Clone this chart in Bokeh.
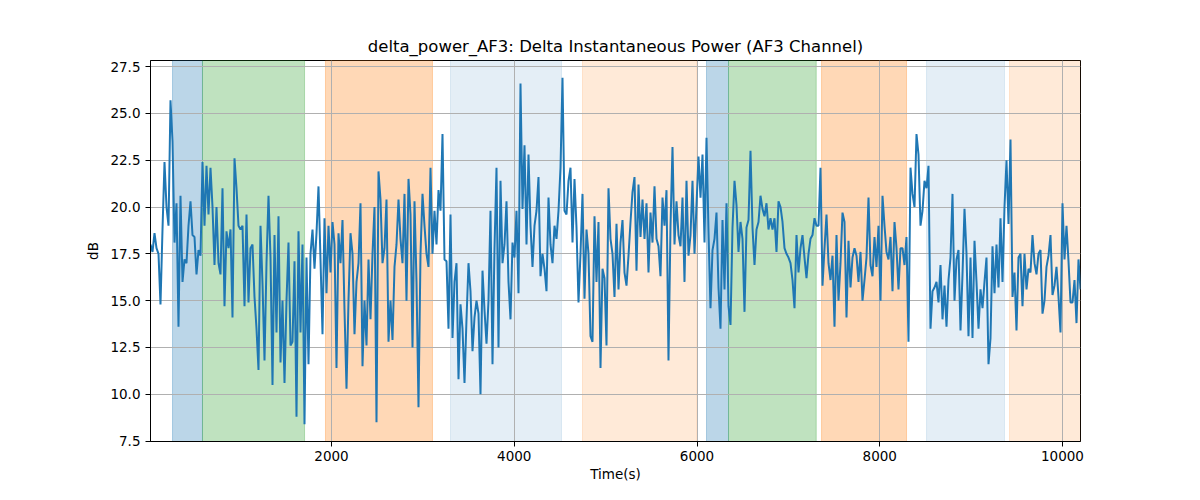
import numpy as np
from bokeh.plotting import figure
from bokeh.models import Range1d, FixedTicker, BoxAnnotation
from bokeh.embed import file_html
from bokeh.resources import INLINE

# ---------------- data ----------------
t_start = 19.0
t_end = 10197.0

power_db = [
    # 0 - ~850
    18.0, 17.6, 18.6, 17.8, 17.5, 14.8, 18.8, 22.4, 20.0, 19.0, 25.7, 23.5, 18.1, 20.2, 13.6, 20.6, 16.0, 17.2, 17.0,
    19.0, 20.3, 18.5, 18.4, 16.4, 17.7, 17.4, 22.4, 19.0, 22.2, 19.6, 22.1, 20.0, 16.9, 20.0, 17.0, 16.4, 21.0, 14.7,
    # ~850 - 1700
    18.7, 17.8, 18.8, 14.1, 22.6, 21.0, 19.0, 18.8, 19.0, 14.7, 19.6, 14.9, 17.8, 18.0, 15.2, 13.5, 11.3, 19.0, 15.9,
    11.8, 17.0, 20.6, 17.3, 10.5, 18.5, 13.3, 19.5, 11.7, 15.0, 10.6, 15.0, 18.1, 12.6, 12.8, 17.1, 8.8, 18.7, 13.3, 18.0,
    # ~1700 - 2550
    8.4, 17.3, 11.6, 17.5, 18.8, 16.7, 18.6, 21.1, 17.2, 13.2, 19.4, 15.4, 19.0, 16.5, 19.2, 18.0, 11.4, 18.6, 17.0,
    19.3, 14.5, 10.3, 15.0, 18.6, 17.5, 13.2, 16.0, 17.0, 20.2, 11.5, 15.0, 12.6, 17.2, 14.0, 17.5, 20.0, 8.5, 21.9, 20.4,
    # ~2550 - 3400
    17.0, 17.8, 20.4, 12.8, 15.0, 12.9, 16.8, 18.0, 20.4, 18.3, 17.0, 20.7, 15.0, 21.5, 19.6, 12.5, 20.3, 16.0, 9.3,
    17.5, 20.7, 19.0, 17.5, 16.8, 22.1, 17.5, 19.8, 18.0, 20.9, 19.8, 23.9, 17.2, 17.1, 13.5, 19.6, 13.0, 16.0, 17.0, 10.8,
    # ~3400 - 4250
    14.8, 13.5, 10.6, 14.0, 17.0, 15.5, 12.3, 14.1, 15.0, 14.3, 10.0, 16.6, 14.5, 12.7, 15.0, 19.8, 11.6, 17.8, 22.1,
    12.5, 21.4, 17.0, 18.0, 20.3, 16.0, 14.0, 18.1, 17.3, 19.8, 15.4, 26.6, 19.9, 23.3, 18.0, 22.8, 19.0, 16.8, 19.0,
    # ~4250 - 5100
    19.8, 21.6, 16.3, 17.5, 16.7, 15.5, 20.5, 18.0, 17.0, 19.0, 18.3, 19.8, 22.1, 26.9, 19.8, 19.6, 21.4, 22.1, 18.1,
    21.5, 18.9, 14.9, 17.5, 20.7, 15.1, 18.8, 17.5, 13.1, 12.8, 19.5, 16.0, 19.2, 11.4, 16.7, 16.2, 12.6, 21.0, 18.3, 17.5,
    # ~5100 - 5950
    15.2, 19.1, 15.6, 18.1, 19.3, 16.5, 15.8, 17.4, 19.2, 20.8, 21.6, 16.6, 21.2, 18.4, 20.4, 18.3, 20.2, 16.5, 19.7,
    18.1, 21.1, 18.3, 17.9, 16.3, 20.5, 19.0, 20.9, 11.8, 19.0, 23.2, 18.0, 20.3, 18.5, 17.9, 20.5, 16.0, 21.4, 17.4,
    # ~5950 - 6800
    18.5, 21.4, 17.5, 20.1, 22.7, 20.5, 22.8, 18.1, 23.7, 18.7, 14.6, 17.7, 18.3, 19.7, 15.7, 13.5, 19.3, 15.6, 20.2,
    14.7, 13.7, 18.9, 21.4, 20.1, 17.6, 19.2, 18.3, 14.4, 18.9, 19.3, 23.0, 18.9, 16.9, 18.8, 19.2, 20.6, 19.9, 19.5, 20.2,
    # ~6800 - 7650
    18.8, 19.4, 18.8, 19.4, 17.6, 20.3, 20.0, 19.2, 17.8, 17.5, 17.3, 17.0, 16.1, 14.6, 18.5, 16.5, 17.8, 18.5, 17.3,
    16.2, 17.5, 18.3, 18.5, 19.4, 19.0, 19.0, 22.1, 15.8, 17.8, 19.6, 17.0, 16.1, 17.4, 13.6, 18.5, 15.0, 17.0, 19.7,
    # ~7650 - 8500
    19.2, 14.1, 18.2, 15.7, 17.3, 17.8, 17.4, 16.0, 17.6, 15.0, 16.1, 17.3, 20.5, 16.9, 16.3, 18.4, 16.8, 19.0, 15.0,
    20.6, 19.0, 17.6, 17.2, 18.4, 15.5, 19.2, 17.8, 15.6, 17.8, 17.8, 16.9, 18.4, 12.8, 22.1, 20.7, 20.0, 23.9, 22.8, 19.0,
    # ~8500 - 9350
    19.8, 21.4, 21.0, 22.2, 13.5, 15.5, 15.7, 16.0, 14.9, 16.9, 14.0, 15.8, 13.6, 16.1, 17.3, 20.7, 15.0, 17.2, 17.7,
    13.4, 16.4, 19.9, 17.5, 13.1, 17.3, 13.0, 18.2, 16.0, 13.5, 15.6, 14.6, 16.0, 17.3, 11.6, 13.0, 17.9, 15.4, 18.0,
    # ~9350 - 10200
    15.7, 19.4, 16.0, 20.0, 22.5, 19.1, 23.6, 15.2, 16.5, 13.4, 17.3, 17.5, 14.7, 17.5, 15.6, 16.7, 16.5, 18.5, 17.0,
    16.4, 17.5, 17.7, 14.3, 15.0, 16.8, 17.4, 18.5, 15.3, 15.8, 16.8, 15.2, 13.3, 20.2, 17.2, 19.0, 17.1, 14.9, 14.9,
    16.1, 13.8, 17.2, 15.6,
]

region_start = [260, 588, 1934, 3302, 4747, 6104, 6345, 7363, 8512, 9420]
region_end = [588, 1705, 3105, 4517, 5995, 6345, 7305, 8293, 9365, 10300]
region_kind = ["A", "B", "C", "D", "E", "A", "B", "C", "D", "E"]

x_ticks = [2000, 4000, 6000, 8000, 10000]
y_ticks = [7.5, 10.0, 12.5, 15.0, 17.5, 20.0, 22.5, 25.0, 27.5]
y_tick_labels = ["7.5", "10.0", "12.5", "15.0", "17.5", "20.0", "22.5", "25.0", "27.5"]

# ---------------- styles ----------------
kind_style = {
    "A": ("#1f77b4", 0.3),
    "B": ("#2ca02c", 0.3),
    "C": ("#ff7f0e", 0.3),
    "D": ("#1f77b4", 0.12),
    "E": ("#ff7f0e", 0.16),
}
FONT = "DejaVu Sans"

times = np.linspace(t_start, t_end, len(power_db))
vals = np.array(power_db)
span = vals.max() - vals.min()
y_lo = vals.min() - 0.05 * span
y_hi = vals.max() + 0.05 * span

p = figure(
    width=1184, height=484,
    output_backend="svg", toolbar_location=None,
    x_range=Range1d(times[0], times[-1]),
    y_range=Range1d(y_lo, y_hi),
    min_border_left=150, min_border_right=104,
    min_border_top=60, min_border_bottom=40,
    title="delta_power_AF3: Delta Instantaneous Power (AF3 Channel)",
)
p.background_fill_color = "white"
p.border_fill_color = "white"
p.outline_line_color = "black"
p.outline_line_width = 1

p.title.align = "center"
p.title.text_font = FONT
p.title.text_font_size = "16.5px"
p.title.text_font_style = "normal"
p.title.text_color = "black"

for s, e, k in zip(region_start, region_end, region_kind):
    c, a = kind_style[k]
    p.add_layout(BoxAnnotation(left=s, right=e, fill_color=c, fill_alpha=a,
                               line_color=c, line_alpha=a, line_width=1, level="image"))

p.line(times, vals, line_color="#1f77b4", line_width=2)

p.xaxis.ticker = FixedTicker(ticks=x_ticks)
p.yaxis.ticker = FixedTicker(ticks=y_ticks)
p.yaxis.major_label_overrides = {t: l for t, l in zip(y_ticks, y_tick_labels)}
p.xaxis.axis_label = "Time(s)"
p.yaxis.axis_label = "dB"

for ax in (p.xaxis, p.yaxis):
    ax.axis_label_text_font = FONT
    ax.axis_label_text_font_size = "13.5px"
    ax.axis_label_text_font_style = "normal"
    ax.axis_label_text_color = "black"
    ax.major_label_text_font = FONT
    ax.major_label_text_font_size = "13.5px"
    ax.major_label_text_color = "black"
    ax.axis_line_color = "black"
    ax.major_tick_line_color = "black"
    ax.major_tick_out = 5
    ax.major_tick_in = 0
    ax.minor_tick_line_color = None

p.xaxis.major_label_standoff = 4
p.xaxis.axis_label_standoff = 2
p.yaxis.major_label_standoff = 5
p.yaxis.axis_label_standoff = 6

p.grid.grid_line_color = "#b0b0b0"
p.grid.grid_line_width = 1

open("out.html", "w").write(file_html(p, INLINE))
